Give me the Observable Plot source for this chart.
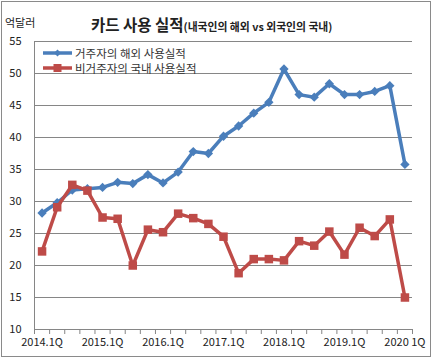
<!DOCTYPE html>
<html><head><meta charset="utf-8">
<script src="https://cdn.jsdelivr.net/npm/d3@7"></script>
<script src="https://cdn.jsdelivr.net/npm/@observablehq/plot@0.6"></script>
<style>
body{margin:0;background:#fff;font-family:"Noto Sans CJK KR","Noto Sans",sans-serif;}
#wrap{position:relative;width:433px;height:358px;overflow:hidden;}
#frame{position:absolute;left:1px;top:1px;width:428px;height:354px;border:1px solid #8a8a8a;pointer-events:none;}
#unit{position:absolute;left:5px;top:14px;font-size:11px;color:#222;}
#title{position:absolute;left:91px;top:12px;white-space:nowrap;color:#222;font-weight:bold;}
#title .main{font-size:15.5px;}
#title .sub{font-size:10.8px;}
#legend{position:absolute;left:42px;top:45px;font-size:11.5px;color:#333;}
#legend .row{height:15px;display:flex;align-items:center;}
#legend svg{margin-right:2px;}
#chart{position:absolute;left:0;top:0;}
</style></head>
<body>
<div id="wrap">
  <div id="chart"></div>
  <div id="unit">억달러</div>
  <div id="title"><span class="main">카드 사용 실적</span><span class="sub">(내국인의 해외 vs 외국인의 국내)</span></div>
  <div id="legend"></div>
  <div id="frame"></div>
</div>
<script>
const quarters = ["2014.1Q","2014.2Q","2014.3Q","2014.4Q","2015.1Q","2015.2Q","2015.3Q","2015.4Q",
  "2016.1Q","2016.2Q","2016.3Q","2016.4Q","2017.1Q","2017.2Q","2017.3Q","2017.4Q",
  "2018.1Q","2018.2Q","2018.3Q","2018.4Q","2019.1Q","2019.2Q","2019.3Q","2019.4Q","2020.1Q"];
const residentsAbroad = [28.2,29.8,31.8,32.0,32.2,33.0,32.8,34.2,32.9,34.6,37.8,37.5,40.2,41.8,43.8,45.5,
  50.7,46.7,46.3,48.4,46.7,46.7,47.2,48.1,35.8];
const nonResidentsDomestic = [22.2,29.1,32.6,31.7,27.5,27.3,20.0,25.6,25.2,28.1,27.4,26.5,24.5,18.8,21.0,21.0,
  20.8,23.8,23.1,25.3,21.7,25.9,24.6,27.2,15.0];
const seriesNames = ["거주자의 해외 사용실적","비거주자의 국내 사용실적"];
const yTicks = [10,15,20,25,30,35,40,45,50,55];
const xTickQuarters = ["2014.1Q","2015.1Q","2016.1Q","2017.1Q","2018.1Q","2019.1Q","2020.1Q"];
const xTickLabels = ["2014.1Q","2015.1Q","2016.1Q","2017.1Q","2018.1Q","2019.1Q","2020 1Q"];

const blue = "#4A7EBB", red = "#BE4B48", grid = "#868686";
const rows = quarters.map((q,i)=>({i, q, a: residentsAbroad[i], d: nonResidentsDomestic[i]}));
const boundaries = d3.range(quarters.length+1).map(k=>k-0.5);
const labelIdx = xTickQuarters.map(q=>quarters.indexOf(q));

const chart = Plot.plot({
  width:433, height:358,
  marginLeft:34, marginRight:21, marginTop:41, marginBottom:29,
  style:{fontFamily:'"Noto Sans CJK KR","Noto Sans",sans-serif', fontSize:"11px", color:"#222", background:"transparent"},
  x:{type:"linear", domain:[-0.5, quarters.length-0.5]},
  y:{domain:[10,55]},
  marks:[
    Plot.gridY(yTicks.filter(v=>v>10), {stroke:grid, strokeOpacity:1, strokeWidth:1}),
    Plot.axisY(yTicks, {tickSize:0, tickPadding:13, fontSize:11, label:null}),
    Plot.ruleX([-0.5], {stroke:grid, strokeWidth:1}),
    Plot.ruleY([10], {stroke:grid, strokeWidth:1}),
    Plot.axisX(boundaries, {tickSize:5, stroke:grid, tickFormat:()=>"", label:null}),
    Plot.axisX(labelIdx, {tickSize:0, tickPadding:9, fontSize:11, tickFormat:i=>xTickLabels[labelIdx.indexOf(i)], label:null}),
    Plot.line(rows, {x:"i", y:"a", stroke:blue, strokeWidth:3.5}),
    Plot.dot(rows, {x:"i", y:"a", symbol:"diamond2", fill:blue, r:4.2}),
    Plot.line(rows, {x:"i", y:"d", stroke:red, strokeWidth:3.5}),
    Plot.dot(rows, {x:"i", y:"d", symbol:"square", fill:red, r:4.8})
  ]
});
document.getElementById("chart").appendChild(chart);

const legend = document.getElementById("legend");
const sym = [
  `<svg width="31" height="12"><line x1="1" y1="6" x2="30" y2="6" stroke="${blue}" stroke-width="3.5"/><path d="M15.5,2.5L19,6L15.5,9.5L12,6Z" fill="${blue}"/></svg>`,
  `<svg width="31" height="12"><line x1="1" y1="6" x2="30" y2="6" stroke="${red}" stroke-width="3.5"/><rect x="11.5" y="2" width="8" height="8" fill="${red}"/></svg>`
];
seriesNames.forEach((n,k)=>{
  const r = document.createElement("div"); r.className="row";
  r.innerHTML = sym[k] + `<span>${n}</span>`;
  legend.appendChild(r);
});
</script>
</body></html>
